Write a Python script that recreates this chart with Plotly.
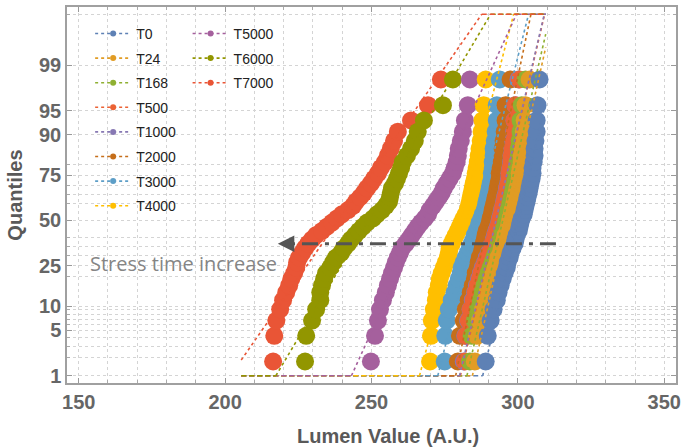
import numpy as np
import plotly.graph_objects as go
from statistics import NormalDist

# ---- data: lumen values per stress time (sorted samples) ----
series_names = ["T0", "T24", "T168", "T500", "T1000", "T2000",
                "T3000", "T4000", "T5000", "T6000", "T7000"]

series_colors = ["#5E81B5", "#E19C24", "#8FB032", "#EB6235", "#8778B3", "#C56E1A",
                 "#5D9EC7", "#FFBF00", "#A5609D", "#929600", "#E95536"]

lumen_T0 = [289.0, 289.7, 290.7, 291.7, 292.8, 293.4, 294.1, 294.8, 295.5, 296.2,
            296.5, 297.2, 297.5, 298.2, 298.9, 299.2, 299.6, 300.3, 300.6, 300.9,
            301.3, 302.0, 302.3, 302.6, 303.0, 303.3, 303.7, 304.0, 304.3, 304.7,
            305.0, 305.0, 305.4, 305.7, 305.7, 306.0, 306.4, 306.4, 306.7, 307.4]
lumen_T24 = [285.3, 286.0, 287.0, 288.1, 289.0, 289.7, 290.4, 291.1, 291.7, 292.4,
             293.1, 293.4, 294.1, 294.5, 295.1, 295.5, 295.8, 296.5, 296.9, 297.2,
             297.5, 297.9, 298.2, 298.6, 298.9, 299.2, 299.6, 299.9, 300.3, 300.6,
             300.6, 300.9, 301.3, 301.3, 301.6, 302.0, 302.0, 302.3, 302.6, 304.0]
lumen_T168 = [283.6, 284.2, 285.3, 286.3, 287.3, 287.9, 288.6, 289.3, 290.0, 290.7,
              291.4, 292.0, 292.4, 293.1, 293.4, 294.1, 294.5, 294.8, 295.5, 295.8,
              296.2, 296.5, 296.8, 297.2, 297.5, 297.9, 298.2, 298.6, 298.9, 299.2,
              299.2, 299.6, 299.9, 300.3, 300.3, 300.6, 300.9, 300.9, 301.3, 302.6]
lumen_T500 = [281.9, 282.2, 283.2, 283.9, 284.9, 285.6, 286.3, 287.0, 287.6, 288.3,
              289.0, 289.7, 290.4, 291.1, 291.4, 292.1, 292.4, 292.8, 293.4, 293.8,
              294.1, 294.5, 294.8, 295.1, 295.5, 295.8, 296.2, 296.5, 296.9, 297.2,
              297.2, 297.5, 297.9, 297.9, 298.2, 298.6, 298.9, 298.9, 299.2, 300.6]
lumen_T1000 = [281.5, 282.0, 283.0, 283.8, 284.6, 285.4, 286.0, 286.7, 287.4, 288.0,
               288.8, 289.4, 290.1, 290.8, 291.2, 291.8, 292.2, 292.6, 293.2, 293.6,
               293.9, 294.3, 294.6, 295.0, 295.3, 295.6, 296.0, 296.3, 296.7, 297.0,
               297.1, 297.4, 297.7, 297.8, 298.1, 298.4, 298.7, 298.8, 299.1, 300.2]
lumen_T2000 = [279.5, 280.2, 281.5, 282.2, 283.2, 283.9, 284.6, 285.3, 285.6, 286.3,
               286.6, 287.0, 287.6, 288.0, 288.3, 288.7, 289.0, 289.3, 290.0, 290.4,
               290.7, 291.1, 291.4, 291.7, 292.1, 292.4, 292.8, 293.1, 293.4, 293.8,
               293.8, 294.1, 294.5, 294.8, 294.8, 295.1, 295.5, 295.8, 295.8, 297.5]
lumen_T3000 = [275.0, 275.2, 275.7, 276.4, 277.4, 278.4, 279.1, 279.8, 280.5, 280.8,
               281.5, 282.2, 282.9, 283.6, 284.2, 284.9, 285.3, 285.9, 286.6, 286.9,
               287.6, 288.0, 288.7, 289.0, 289.3, 289.7, 290.0, 290.4, 290.7, 291.1,
               291.1, 291.4, 291.4, 291.7, 291.7, 292.1, 292.4, 292.8, 292.8, 293.8]
lumen_T4000 = [270.0, 270.3, 270.6, 271.3, 272.0, 272.3, 273.0, 273.3, 274.0, 274.7,
               275.4, 276.1, 276.4, 276.7, 277.4, 278.1, 278.8, 279.5, 280.2, 280.8,
               281.5, 282.2, 282.9, 283.2, 283.6, 283.9, 284.2, 284.6, 284.9, 285.3,
               285.6, 285.9, 286.3, 286.6, 286.9, 287.3, 287.6, 287.9, 288.3, 289.0]
lumen_T5000 = [249.8, 251.2, 252.2, 252.9, 253.9, 254.9, 255.6, 256.3, 257.0, 257.7,
               258.3, 259.0, 259.7, 260.4, 261.7, 262.8, 263.8, 264.8, 265.8, 266.9,
               268.2, 269.3, 269.9, 271.0, 272.0, 273.0, 274.0, 274.7, 275.7, 276.7,
               277.8, 278.4, 279.1, 279.5, 279.8, 280.5, 281.2, 281.9, 282.9, 283.6]
lumen_T6000 = [227.3, 227.7, 229.7, 231.1, 232.5, 232.5, 233.1, 233.8, 234.5, 235.9,
               236.9, 237.9, 239.6, 240.6, 242.0, 243.0, 244.4, 245.7, 247.1, 248.5,
               250.5, 251.9, 253.6, 254.9, 256.0, 256.3, 256.6, 257.0, 258.0, 258.7,
               259.4, 260.1, 260.7, 262.1, 263.5, 264.8, 265.8, 267.9, 274.4, 277.8]
lumen_T7000 = [216.4, 216.8, 217.5, 218.8, 219.8, 220.9, 221.9, 222.6, 223.6, 224.3,
               224.6, 225.3, 226.3, 227.3, 228.4, 229.7, 231.1, 233.1, 234.8, 236.5,
               238.2, 239.9, 242.0, 243.7, 244.7, 246.1, 247.4, 248.5, 249.8, 250.9,
               252.2, 253.2, 254.6, 255.6, 256.6, 257.7, 259.0, 263.5, 269.3, 273.7]

series_values = [lumen_T0, lumen_T24, lumen_T168, lumen_T500, lumen_T1000, lumen_T2000,
                 lumen_T3000, lumen_T4000, lumen_T5000, lumen_T6000, lumen_T7000]

# probability-axis ticks and grid (percent)
quantile_ticks = [1, 5, 10, 25, 50, 75, 90, 95, 99]
quantile_grid = [1, 2, 3, 4, 5, 6, 7, 8, 9, 10, 20, 25, 30, 35, 40, 50,
                 60, 65, 70, 75, 80, 90, 95, 99, 99.9]
quantile_range = [1, 99.9]
lumen_range = [150, 350]
fit_domain = [205.5, 309.5]

# ---- normal probability scale helpers ----
nd = NormalDist()


def probit(pct):
    return nd.inv_cdf(pct / 100.0)


def median_ranks(n):
    # Benard's approximation of median ranks, in percent
    return [100.0 * (i - 0.3) / (n + 0.4) for i in range(1, n + 1)]


z_lo, z_hi = probit(quantile_range[0]), probit(quantile_range[1])
z_pad = 0.02 * (z_hi - z_lo)
x_pad = 0.02 * (lumen_range[1] - lumen_range[0])

fig = go.Figure()

# sample points, last series underneath
for name, color, vals in reversed(list(zip(series_names, series_colors, series_values))):
    v = np.sort(np.asarray(vals, dtype=float))
    zq = [probit(p) for p in median_ranks(len(v))]
    fig.add_trace(go.Scatter(
        x=v, y=zq, mode="markers", showlegend=False, hoverinfo="skip",
        marker=dict(size=18, color=color, line=dict(width=0)),
    ))

# fitted normal reference lines, clipped to the probability range
for name, color, vals in zip(series_names, series_colors, series_values):
    v = np.asarray(vals, dtype=float)
    mu, sd = float(np.mean(v)), float(np.std(v, ddof=1))
    x_at_lo, x_at_hi = mu + sd * z_lo, mu + sd * z_hi
    a, b = max(fit_domain[0], x_at_lo), min(fit_domain[1], x_at_hi)
    fig.add_trace(go.Scatter(
        x=[a, b], y=[(a - mu) / sd, (b - mu) / sd], mode="lines",
        showlegend=False, hoverinfo="skip",
        line=dict(color=color, width=1.6, dash="dot"),
    ))
    cx, cy = [], []
    if x_at_lo > fit_domain[0]:
        cx += [fit_domain[0], x_at_lo, None]
        cy += [z_lo, z_lo, None]
    if x_at_hi < fit_domain[1]:
        cx += [x_at_hi, fit_domain[1], None]
        cy += [z_hi, z_hi, None]
    if cx:
        fig.add_trace(go.Scatter(
            x=cx, y=cy, mode="lines", showlegend=False, hoverinfo="skip",
            line=dict(color=color, width=1.6, dash="5px,3px"),
        ))

# legend entries (two columns)
for k, (name, color) in enumerate(zip(series_names, series_colors)):
    fig.add_trace(go.Scatter(
        x=[None], y=[None], mode="lines+markers", name=name,
        legend="legend" if k < 8 else "legend2", legendgroup=name,
        line=dict(color=color, width=1.6, dash="dot"),
        marker=dict(size=6, color=color),
    ))

grid_style = dict(showgrid=True, gridcolor="#d4d4d4", gridwidth=1, griddash="dot")
tick_font = dict(family="Liberation Sans", size=20, color="#666666", weight="bold")

fig.update_xaxes(
    range=[lumen_range[0] - x_pad, lumen_range[1] + x_pad],
    tickmode="array", tickvals=[150, 200, 250, 300, 350],
    ticks="inside", ticklen=5, tickcolor="#999999", tickwidth=1,
    tickfont=tick_font,
    showline=True, linecolor="#a0a0a0", linewidth=1.5, mirror="ticks",
    zeroline=False,
    minor=dict(tickmode="array", tickvals=list(range(150, 351, 10)),
               ticks="inside", ticklen=3, tickcolor="#aaaaaa", **grid_style),
    **grid_style,
)
fig.update_yaxes(
    range=[z_lo - z_pad, z_hi + z_pad],
    tickmode="array", tickvals=[probit(q) for q in quantile_ticks],
    ticktext=[str(q) for q in quantile_ticks],
    ticks="inside", ticklen=5, tickcolor="#999999", tickwidth=1,
    tickfont=tick_font,
    showline=True, linecolor="#a0a0a0", linewidth=1.5, mirror="ticks",
    zeroline=False,
    minor=dict(tickmode="array", tickvals=[probit(q) for q in quantile_grid],
               ticks="inside", ticklen=3, tickcolor="#aaaaaa", **grid_style),
    **grid_style,
)

# stress-time arrow
arrow_z = -0.35
fig.add_shape(type="line", xref="x", yref="y", x0=313.0, x1=221.5, y0=arrow_z, y1=arrow_z,
              line=dict(color="#555555", width=3, dash="16px,7px,4px,7px"))
fig.add_annotation(x=218.0, y=arrow_z, xref="x", yref="y", text="", showarrow=True,
                   ax=14, ay=0, arrowhead=2, arrowsize=1.1, arrowwidth=3,
                   arrowcolor="#555555")
fig.add_annotation(x=0.034, y=0.317, xref="paper", yref="paper", xanchor="left",
                   yanchor="middle", showarrow=False, text="Stress time increase",
                   font=dict(family="Open Sans", size=20, color="#858585"))

# axis titles
title_font = dict(family="Liberation Sans", size=20, color="#595959", weight="bold")
fig.add_annotation(x=0.527, y=-0.14, xref="paper", yref="paper", xanchor="center",
                   yanchor="middle", showarrow=False, text="Lumen Value (A.U.)",
                   font=title_font)
fig.add_annotation(x=-0.086, y=0.5, xref="paper", yref="paper", xanchor="center",
                   yanchor="middle", showarrow=False, text="Quantiles", textangle=-90,
                   font=title_font)

legend_common = dict(
    xanchor="left", yanchor="top", bgcolor="rgba(0,0,0,0)", borderwidth=0,
    font=dict(family="Liberation Sans", size=14, color="#222222"),
    tracegroupgap=3.4, itemwidth=36, traceorder="grouped",
)
fig.update_layout(
    width=686, height=448,
    margin=dict(l=67, r=7, t=5, b=65),
    paper_bgcolor="white", plot_bgcolor="white",
    showlegend=True,
    legend=dict(x=0.038, y=0.971, **legend_common),
    legend2=dict(x=0.198, y=0.971, **legend_common),
)

fig.write_html("out.html")
